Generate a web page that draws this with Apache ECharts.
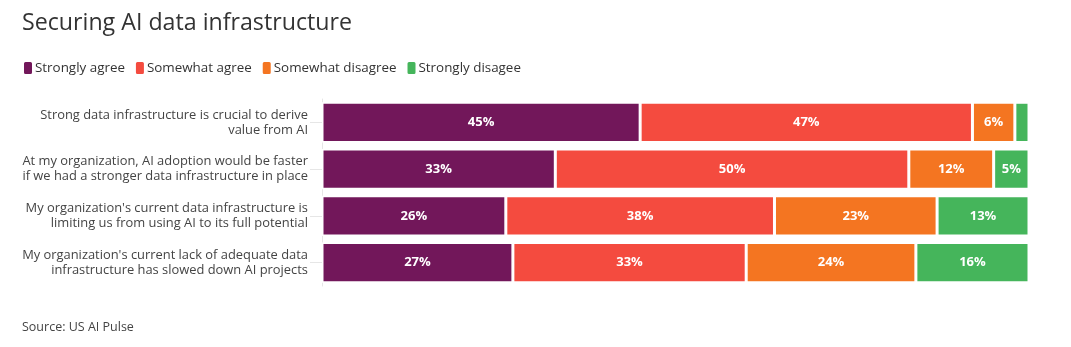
<!DOCTYPE html>
<html><head><meta charset="utf-8">
<script src="https://cdn.jsdelivr.net/npm/echarts@6/dist/echarts.min.js"></script>
<style>html,body{margin:0;padding:0;background:#fff}#c{width:1071px;height:347px}</style>
</head><body><div id="c"></div>
<script>
const categories = [
  "Strong data infrastructure is crucial to derive\nvalue from AI",
  "At my organization, AI adoption would be faster\nif we had a stronger data infrastructure in place",
  "My organization's current data infrastructure is\nlimiting us from using AI to its full potential",
  "My organization's current lack of adequate data\ninfrastructure has slowed down AI projects"
];
const seriesNames = ["Strongly agree", "Somewhat agree", "Somewhat disagree", "Strongly disagee"];
const stronglyAgree = [45, 33, 26, 27];
const somewhatAgree = [47, 50, 38, 33];
const somewhatDisagree = [6, 12, 23, 24];
const stronglyDisagree = [2, 5, 13, 16];
const colors = ["#72175a", "#f44b3f", "#f47521", "#45b55b"];

const font = "'Open Sans', 'Noto Sans', sans-serif";
const values = [stronglyAgree, somewhatAgree, somewhatDisagree, stronglyDisagree];
const chart = echarts.init(document.getElementById('c'));
chart.setOption({
  animation: false,
  title: [
    {text: "Securing AI data infrastructure", left: 17, top: 7,
     textStyle: {fontFamily: font, fontSize: 23.2, fontWeight: 'normal', color: '#333'}},
    {text: "Source: US AI Pulse", left: 17, top: 316,
     textStyle: {fontFamily: font, fontSize: 12.5, fontWeight: 'normal', color: '#444'}}
  ],
  legend: {
    left: 17, top: 55, itemWidth: 10, itemHeight: 14, itemGap: 9,
    icon: 'roundRect',
    textStyle: {fontFamily: font, fontSize: 13.4, color: '#333', padding: [0, 0, 0, -3]},
    data: seriesNames
  },
  grid: {left: 322, right: 42, top: 99, bottom: 61, containLabel: false},
  xAxis: {type: 'value', min: 0, max: 100, show: false},
  yAxis: {
    type: 'category', inverse: true, data: categories,
    axisLine: {show: true, lineStyle: {color: '#e6e6e6'}},
    axisTick: {show: true, alignWithLabel: true, length: 12, lineStyle: {color: '#e6e6e6'}},
    splitLine: {show: true, alignWithLabel: true, lineStyle: {color: '#eeeeee'}},
    axisLabel: {fontFamily: font, fontSize: 12.9, color: '#444', lineHeight: 15, margin: 14, align: 'right'}
  },
  series: seriesNames.map((n, i) => ({
    name: n, type: 'bar', stack: 'total', data: values[i], barCategoryGap: '14.4%',
    itemStyle: {color: colors[i], borderColor: '#fff', borderWidth: 1.5},
    label: {show: true, position: 'inside', fontFamily: font, fontSize: 13, fontWeight: 'bold', color: '#fff',
      formatter: p => p.value >= 4 ? p.value + '%' : ''}
  }))
});
</script></body></html>
